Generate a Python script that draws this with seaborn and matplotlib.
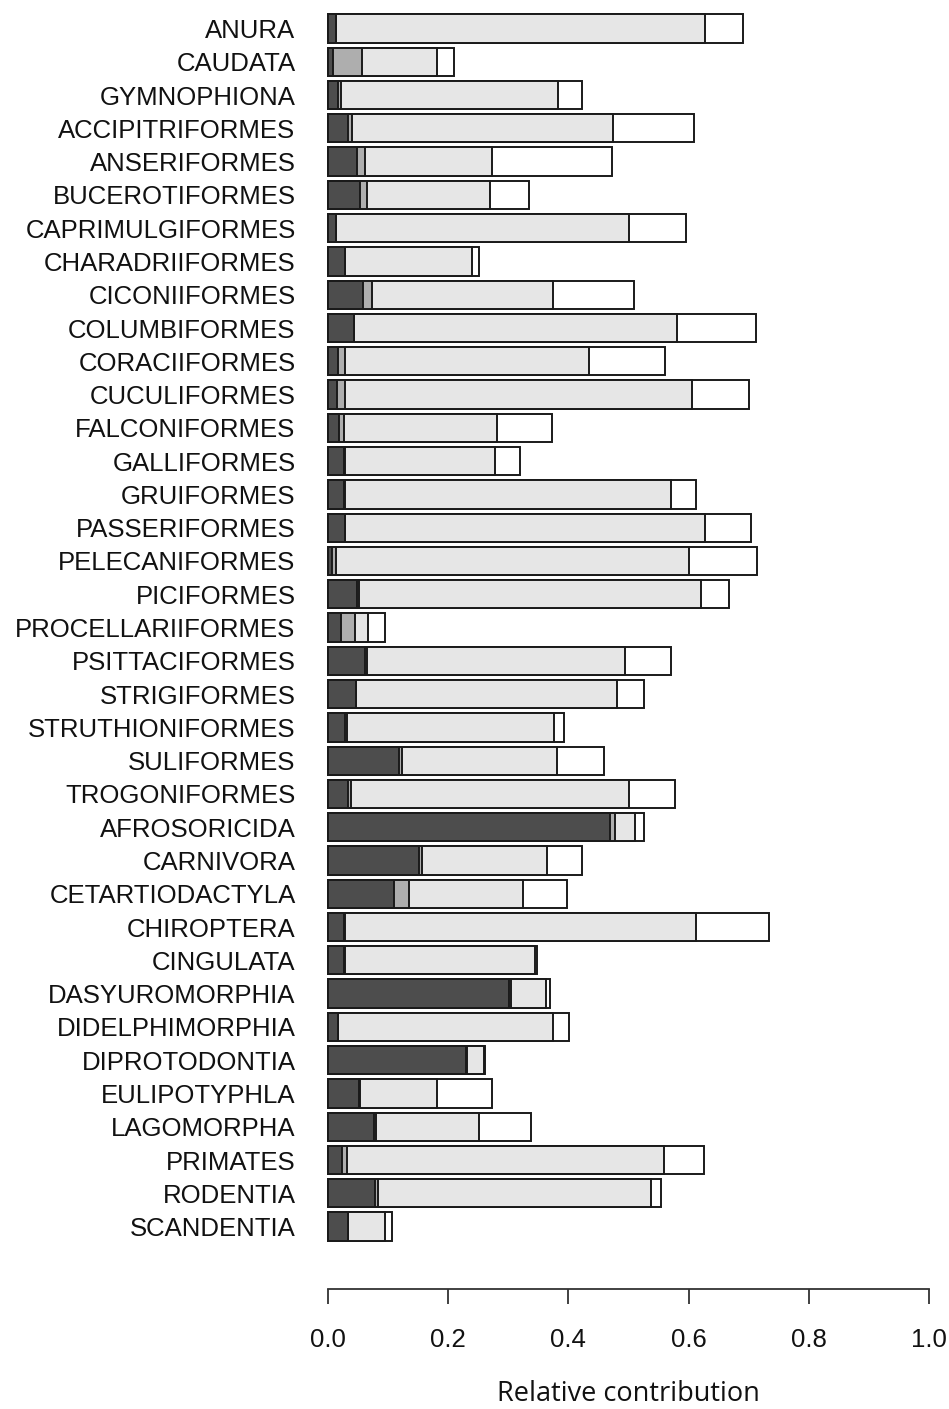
import numpy as np
import pandas as pd
import matplotlib
matplotlib.use("Agg")
import matplotlib.pyplot as plt
import seaborn as sns

# orders, top to bottom
orders = ["ANURA", "CAUDATA", "GYMNOPHIONA", "ACCIPITRIFORMES", "ANSERIFORMES",
          "BUCEROTIFORMES", "CAPRIMULGIFORMES", "CHARADRIIFORMES", "CICONIIFORMES",
          "COLUMBIFORMES", "CORACIIFORMES", "CUCULIFORMES", "FALCONIFORMES",
          "GALLIFORMES", "GRUIFORMES", "PASSERIFORMES", "PELECANIFORMES", "PICIFORMES",
          "PROCELLARIIFORMES", "PSITTACIFORMES", "STRIGIFORMES", "STRUTHIONIFORMES",
          "SULIFORMES", "TROGONIFORMES", "AFROSORICIDA", "CARNIVORA", "CETARTIODACTYLA",
          "CHIROPTERA", "CINGULATA", "DASYUROMORPHIA", "DIDELPHIMORPHIA", "DIPROTODONTIA",
          "EULIPOTYPHLA", "LAGOMORPHA", "PRIMATES", "RODENTIA", "SCANDENTIA"]

# four stacked components (dark, mid grey, light grey, white)
dark = [0.013, 0.009, 0.017, 0.034, 0.048, 0.054, 0.014, 0.029, 0.059,
        0.043, 0.017, 0.015, 0.018, 0.026, 0.026, 0.029, 0.007, 0.048,
        0.021, 0.062, 0.046, 0.029, 0.118, 0.034, 0.470, 0.151, 0.109,
        0.026, 0.026, 0.301, 0.017, 0.229, 0.051, 0.076, 0.023, 0.079, 0.034]
mid = [0.000, 0.048, 0.004, 0.006, 0.014, 0.011, 0.000, 0.000, 0.014,
       0.000, 0.012, 0.014, 0.008, 0.003, 0.003, 0.000, 0.006, 0.004,
       0.024, 0.003, 0.000, 0.003, 0.005, 0.004, 0.008, 0.005, 0.025,
       0.003, 0.003, 0.003, 0.000, 0.003, 0.003, 0.004, 0.009, 0.005, 0.000]
light = [0.615, 0.124, 0.361, 0.435, 0.211, 0.205, 0.486, 0.211, 0.302,
         0.538, 0.405, 0.577, 0.255, 0.249, 0.541, 0.599, 0.588, 0.568,
         0.022, 0.430, 0.435, 0.344, 0.258, 0.462, 0.033, 0.208, 0.191,
         0.583, 0.316, 0.058, 0.358, 0.027, 0.127, 0.171, 0.527, 0.453, 0.061]
white = [0.062, 0.028, 0.041, 0.134, 0.200, 0.064, 0.095, 0.011, 0.134,
         0.131, 0.127, 0.094, 0.092, 0.042, 0.042, 0.075, 0.113, 0.047,
         0.028, 0.075, 0.044, 0.016, 0.078, 0.078, 0.014, 0.059, 0.073,
         0.122, 0.003, 0.008, 0.026, 0.003, 0.092, 0.086, 0.067, 0.017, 0.011]

colors = ["#4D4D4D", "#AEAEAE", "#E6E6E6", "#FFFFFF"]

df = pd.DataFrame({"order": orders, "dark": dark, "mid": mid,
                   "light": light, "white": white})
parts = ["dark", "mid", "light", "white"]
cum = df[parts].cumsum(axis=1)

sns.set_style("white")
plt.rcParams["font.family"] = ["Liberation Sans", "DejaVu Sans"]

W, H = 949, 1409
fig = plt.figure(figsize=(W / 100, H / 100), dpi=100)
x0, px_unit = 328, 601
pad = 0.017
ax_left = x0 - pad * px_unit
ax_w = (1 + 2 * pad) * px_unit
ax_bottom_px = 1289
ax = fig.add_axes([ax_left / W, (H - ax_bottom_px) / H, ax_w / W, ax_bottom_px / H])

# stacked look: draw the cumulative totals from the outermost layer inwards
for part, col in zip(parts[::-1], colors[::-1]):
    sns.barplot(x=cum[part].values, y=df["order"], orient="h", color=col,
                saturation=1, edgecolor="#1a1a1a", linewidth=1.4, width=0.85,
                ax=ax, errorbar=None)

spacing = 33.28
first_c = 28.5
ax.set_ylim((ax_bottom_px - first_c) / spacing, -first_c / spacing)
ax.set_xlim(-pad, 1 + pad)

sns.despine(ax=ax, left=True, top=True, right=True)
ax.spines["bottom"].set_bounds(0, 1)
ax.spines["bottom"].set_color("#333333")
ax.spines["bottom"].set_linewidth(1.3)
ax.set_xticks(np.arange(0, 1.01, 0.2))
ax.set_xticklabels([f"{v:.1f}" for v in np.arange(0, 1.01, 0.2)])
ax.tick_params(axis="x", length=11, width=1.3, color="#333333", pad=17,
               labelsize=18.5, labelcolor="#111111", bottom=True)
ax.tick_params(axis="y", length=0, pad=16, labelsize=18.5, labelcolor="#111111")
ax.set_ylabel("")
ax.set_xlabel("Relative contribution", fontsize=19.5, family=["Open Sans", "DejaVu Sans"],
              labelpad=20, color="#111111")

fig.savefig("out.png", dpi=100)
